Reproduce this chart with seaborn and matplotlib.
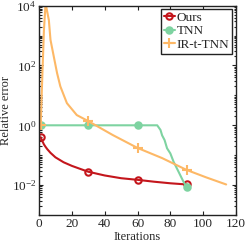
import numpy as np
import pandas as pd
import matplotlib
matplotlib.use("Agg")
import matplotlib.pyplot as plt
import seaborn as sns
from matplotlib.ticker import LogLocator, FixedLocator, NullFormatter
from matplotlib.lines import Line2D

# ---- data ----
ours_iter = [1, 2, 3, 4, 5, 7, 10, 15, 20, 25, 30, 40, 50, 60, 70, 80, 90]
ours_err = [0.40, 0.30, 0.23, 0.19, 0.16, 0.12, 0.085, 0.058, 0.044, 0.035,
            0.028, 0.021, 0.017, 0.015, 0.013, 0.0115, 0.0105]

tnn_iter = [1, 30, 60, 72, 74, 75, 76.5, 78, 80, 82, 85, 88, 90]
tnn_err = [1.0, 1.0, 1.0, 1.0, 0.7, 0.46, 0.32, 0.17, 0.115, 0.06, 0.028, 0.013, 0.0085]

irt_iter = [1, 2, 3, 4, 6, 7, 9, 11, 13, 17, 23, 30, 45, 60, 75, 90, 102, 114]
irt_err = [1.0, 40, 1500, 12000, 3300, 720, 200, 56, 20, 5.5, 2.2, 1.38,
           0.47, 0.175, 0.08, 0.032, 0.018, 0.0105]

marker_iters = [1, 30, 60, 90]
labels = ["Ours", "TNN", "IR-t-TNN"]
colors = ["#C4161C", "#7ED3A1", "#FDB866"]

sns.set_style("ticks")
plt.rcParams["font.family"] = ["Liberation Serif", "DejaVu Serif"]
plt.rcParams["mathtext.fontset"] = "custom"
plt.rcParams["mathtext.rm"] = "Liberation Serif"
plt.rcParams["mathtext.it"] = "Liberation Serif:italic"

fig = plt.figure(figsize=(2.46, 2.45), dpi=100)
ax = fig.add_axes([39 / 246, 1 - 215 / 245, 197 / 246, (215 - 5.7) / 245])

series = [(ours_iter, ours_err, "o", 4.6, "none"),
          (tnn_iter, tnn_err, "o", 4.6, None),
          (irt_iter, irt_err, "+", 6.5, None)]
handles = []
for (xs, ys, mk, ms, mfc), lab, col in zip(series, labels, colors):
    df = pd.DataFrame({"Iterations": xs, "err": ys})
    idx = [xs.index(m) for m in marker_iters]
    kw = dict(marker=mk, markersize=ms, markevery=idx, markeredgewidth=1.5,
              markeredgecolor=col)
    kw["markerfacecolor"] = mfc if mfc is not None else col
    sns.lineplot(data=df, x="Iterations", y="err", ax=ax, color=col,
                 linewidth=1.5, legend=False, **kw)
    handles.append(ax.lines[-1])

ax.set_yscale("log")
ax.set_xlim(0, 120)
ax.set_ylim(1e-3, 1e4)
ax.xaxis.set_major_locator(FixedLocator([0, 20, 40, 60, 80, 100, 120]))
ax.yaxis.set_major_locator(FixedLocator([1e-2, 1e0, 1e2, 1e4]))
ax.yaxis.set_minor_locator(LogLocator(base=10, subs=np.arange(1, 10), numticks=30))
ax.yaxis.set_minor_formatter(NullFormatter())
ax.tick_params(which="both", direction="in", top=True, right=True,
               labelsize=9.5, color="#222222", width=0.8)
ax.tick_params(which="major", length=3, pad=2)
ax.tick_params(which="minor", length=1.8)
for s in ax.spines.values():
    s.set_linewidth(1.0)
    s.set_color("#222222")

ax.set_xlabel("Iterations", fontsize=9, labelpad=1)
ax.set_ylabel("Relative error", fontsize=9, labelpad=0)

leg_handles = []
for h, col in zip(handles, colors):
    leg_handles.append(Line2D([], [], color=col, linewidth=1.5, marker=h.get_marker(),
                              markersize=h.get_markersize(), markeredgewidth=1.5,
                              markerfacecolor=h.get_markerfacecolor(),
                              markeredgecolor=col))
leg = ax.legend(leg_handles, labels, loc="upper right",
                bbox_to_anchor=(232 / 246, 1 - 9 / 245), bbox_transform=fig.transFigure,
                borderaxespad=0, fontsize=9.5, handlelength=0.9, handletextpad=0.1,
                labelspacing=0.1, borderpad=0.2, fancybox=False, framealpha=1,
                edgecolor="#222222")
leg.get_frame().set_linewidth(1.0)

fig.savefig("out.png", dpi=100)
